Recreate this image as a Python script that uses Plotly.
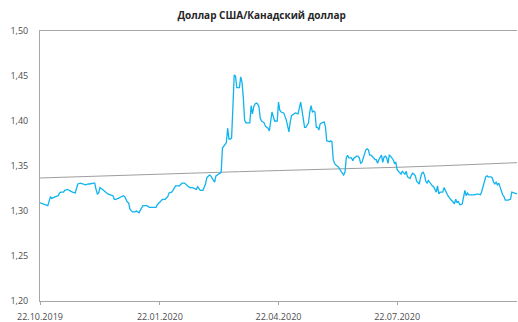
import plotly.graph_objects as go

# USD/CAD daily closes
dates = [
    "2019-10-22", "2019-10-24", "2019-10-27", "2019-10-28", "2019-10-30", "2019-10-31",
    "2019-11-03", "2019-11-05", "2019-11-06", "2019-11-07", "2019-11-09", "2019-11-10",
    "2019-11-12", "2019-11-14", "2019-11-15", "2019-11-16", "2019-11-18", "2019-11-19",
    "2019-11-20", "2019-11-22", "2019-11-24", "2019-11-26", "2019-11-28", "2019-11-29",
    "2019-12-02", "2019-12-03", "2019-12-04", "2019-12-05", "2019-12-06", "2019-12-07",
    "2019-12-09", "2019-12-11", "2019-12-12", "2019-12-13", "2019-12-15", "2019-12-17",
    "2019-12-18", "2019-12-19", "2019-12-21", "2019-12-23", "2019-12-25", "2019-12-26",
    "2019-12-28", "2019-12-29", "2019-12-30", "2020-01-01", "2020-01-03", "2020-01-04",
    "2020-01-06", "2020-01-07", "2020-01-09", "2020-01-12", "2020-01-14", "2020-01-17",
    "2020-01-19", "2020-01-20", "2020-01-22", "2020-01-24", "2020-01-26", "2020-01-28",
    "2020-01-29", "2020-01-31", "2020-02-01", "2020-02-03", "2020-02-05", "2020-02-06",
    "2020-02-08", "2020-02-10", "2020-02-12", "2020-02-14", "2020-02-16", "2020-02-19",
    "2020-02-20", "2020-02-22", "2020-02-24", "2020-02-26", "2020-02-27", "2020-02-29",
    "2020-03-01", "2020-03-03", "2020-03-04", "2020-03-05", "2020-03-07", "2020-03-09",
    "2020-03-10", "2020-03-11", "2020-03-13", "2020-03-14", "2020-03-15", "2020-03-16",
    "2020-03-17", "2020-03-18", "2020-03-19", "2020-03-20", "2020-03-21", "2020-03-22",
    "2020-03-23", "2020-03-24", "2020-03-25", "2020-03-26", "2020-03-27", "2020-03-28",
    "2020-03-30", "2020-03-31", "2020-04-01", "2020-04-02", "2020-04-03", "2020-04-04",
    "2020-04-05", "2020-04-06", "2020-04-07", "2020-04-08", "2020-04-09", "2020-04-11",
    "2020-04-12", "2020-04-14", "2020-04-15", "2020-04-16", "2020-04-17", "2020-04-19",
    "2020-04-21", "2020-04-22", "2020-04-23", "2020-04-24", "2020-04-26", "2020-04-28",
    "2020-04-29", "2020-04-30", "2020-05-01", "2020-05-02", "2020-05-04", "2020-05-05",
    "2020-05-07", "2020-05-08", "2020-05-09", "2020-05-10", "2020-05-11", "2020-05-12",
    "2020-05-13", "2020-05-15", "2020-05-16", "2020-05-17", "2020-05-18", "2020-05-19",
    "2020-05-20", "2020-05-21", "2020-05-22", "2020-05-23", "2020-05-24", "2020-05-26",
    "2020-05-27", "2020-05-28", "2020-05-29", "2020-05-31", "2020-06-01", "2020-06-02",
    "2020-06-03", "2020-06-04", "2020-06-05", "2020-06-07", "2020-06-08", "2020-06-09",
    "2020-06-11", "2020-06-12", "2020-06-13", "2020-06-14", "2020-06-15", "2020-06-17",
    "2020-06-18", "2020-06-19", "2020-06-21", "2020-06-22", "2020-06-23", "2020-06-24",
    "2020-06-25", "2020-06-27", "2020-06-28", "2020-06-29", "2020-06-30", "2020-07-01",
    "2020-07-02", "2020-07-04", "2020-07-05", "2020-07-06", "2020-07-07", "2020-07-08",
    "2020-07-09", "2020-07-10", "2020-07-11", "2020-07-12", "2020-07-13", "2020-07-14",
    "2020-07-15", "2020-07-16", "2020-07-17", "2020-07-18", "2020-07-19", "2020-07-20",
    "2020-07-21", "2020-07-22", "2020-07-24", "2020-07-25", "2020-07-26", "2020-07-27",
    "2020-07-28", "2020-07-29", "2020-07-30", "2020-07-31", "2020-08-01", "2020-08-02",
    "2020-08-03", "2020-08-04", "2020-08-05", "2020-08-06", "2020-08-07", "2020-08-08",
    "2020-08-09", "2020-08-10", "2020-08-11", "2020-08-12", "2020-08-13", "2020-08-14",
    "2020-08-15", "2020-08-16", "2020-08-17", "2020-08-18", "2020-08-19", "2020-08-20",
    "2020-08-21", "2020-08-22", "2020-08-23", "2020-08-24", "2020-08-26", "2020-08-27",
    "2020-08-29", "2020-08-30", "2020-09-01", "2020-09-02", "2020-09-03", "2020-09-04",
    "2020-09-05", "2020-09-06", "2020-09-07", "2020-09-08", "2020-09-09", "2020-09-10",
    "2020-09-11", "2020-09-12", "2020-09-13", "2020-09-14", "2020-09-15", "2020-09-16",
    "2020-09-19", "2020-09-22", "2020-09-24", "2020-09-25", "2020-09-26", "2020-09-27",
    "2020-09-28", "2020-09-29", "2020-09-30", "2020-10-02", "2020-10-03", "2020-10-04",
    "2020-10-05", "2020-10-06", "2020-10-07", "2020-10-08", "2020-10-09", "2020-10-10",
    "2020-10-11", "2020-10-12", "2020-10-13", "2020-10-15", "2020-10-17", "2020-10-18",
    "2020-10-20", "2020-10-22",
]
usdcad = [
    1.309, 1.308, 1.306, 1.306, 1.316, 1.314,
    1.316, 1.317, 1.320, 1.321, 1.321, 1.323,
    1.324, 1.322, 1.321, 1.321, 1.320, 1.326,
    1.330, 1.331, 1.330, 1.329, 1.330, 1.330,
    1.331, 1.331, 1.324, 1.319, 1.320, 1.326,
    1.324, 1.321, 1.320, 1.319, 1.318, 1.317,
    1.313, 1.313, 1.314, 1.316, 1.317, 1.316,
    1.310, 1.309, 1.302, 1.299, 1.299, 1.300,
    1.298, 1.301, 1.306, 1.306, 1.304, 1.304,
    1.304, 1.307, 1.310, 1.313, 1.313, 1.316,
    1.320, 1.321, 1.323, 1.328, 1.328, 1.328,
    1.331, 1.331, 1.328, 1.326, 1.326, 1.324,
    1.327, 1.323, 1.323, 1.330, 1.337, 1.340,
    1.339, 1.334, 1.332, 1.339, 1.341, 1.343,
    1.370, 1.372, 1.376, 1.392, 1.380, 1.380,
    1.381, 1.415, 1.451, 1.450, 1.437, 1.437,
    1.437, 1.449, 1.443, 1.426, 1.401, 1.398,
    1.398, 1.398, 1.417, 1.408, 1.416, 1.419,
    1.420, 1.419, 1.416, 1.403, 1.400, 1.398,
    1.394, 1.392, 1.389, 1.403, 1.410, 1.400,
    1.400, 1.421, 1.412, 1.410, 1.409, 1.401,
    1.394, 1.388, 1.399, 1.406, 1.408, 1.409,
    1.408, 1.417, 1.421, 1.412, 1.401, 1.393,
    1.393, 1.398, 1.410, 1.417, 1.410, 1.411,
    1.410, 1.393, 1.393, 1.390, 1.397, 1.399,
    1.399, 1.394, 1.378, 1.377, 1.378, 1.377,
    1.357, 1.353, 1.351, 1.349, 1.346, 1.344,
    1.340, 1.343, 1.359, 1.362, 1.359, 1.359,
    1.356, 1.359, 1.361, 1.361, 1.359, 1.353,
    1.354, 1.362, 1.368, 1.369, 1.368, 1.362,
    1.362, 1.359, 1.357, 1.357, 1.353, 1.357,
    1.360, 1.362, 1.354, 1.360, 1.361, 1.359,
    1.353, 1.362, 1.361, 1.359, 1.357, 1.353,
    1.354, 1.346, 1.342, 1.341, 1.344, 1.343,
    1.341, 1.344, 1.338, 1.337, 1.336, 1.340,
    1.342, 1.341, 1.339, 1.333, 1.332, 1.330,
    1.337, 1.342, 1.343, 1.340, 1.333, 1.331,
    1.334, 1.332, 1.329, 1.328, 1.327, 1.323,
    1.321, 1.328, 1.319, 1.321, 1.321, 1.326,
    1.320, 1.317, 1.313, 1.312, 1.310, 1.308,
    1.313, 1.309, 1.311, 1.307, 1.307, 1.308,
    1.314, 1.323, 1.317, 1.320, 1.318, 1.318,
    1.318, 1.319, 1.318, 1.322, 1.328, 1.333,
    1.338, 1.339, 1.338, 1.338, 1.337, 1.332,
    1.330, 1.332, 1.329, 1.331, 1.326, 1.323,
    1.318, 1.316, 1.312, 1.312, 1.313, 1.321,
    1.320, 1.319,
]

# Long-run average of the rate
avg_dates = [
    "2019-10-22", "2019-11-21", "2019-12-22", "2020-01-22", "2020-02-22", "2020-03-23",
    "2020-04-23", "2020-05-24", "2020-06-24", "2020-07-25", "2020-08-24", "2020-09-24",
    "2020-10-22",
]
avg_values = [
    1.3367, 1.3382, 1.3397, 1.3412, 1.3425, 1.3437,
    1.3450, 1.3460, 1.3473, 1.3487, 1.3502, 1.3520,
    1.3537,
]

tick_dates = ["2019-10-22", "2020-01-22", "2020-04-22", "2020-07-22"]
tick_labels = ["22.10.2019", "22.01.2020", "22.04.2020", "22.07.2020"]
y_ticks = [1.20, 1.25, 1.30, 1.35, 1.40, 1.45, 1.50]
y_labels = ["1,20", "1,25", "1,30", "1,35", "1,40", "1,45", "1,50"]

FONT = "Open Sans"
AXIS_COLOR = "#A6A6A6"
TEXT_COLOR = "#4D4D4D"

fig = go.Figure()
fig.add_trace(go.Scatter(
    x=avg_dates, y=avg_values, mode="lines",
    line=dict(color="#9E9E9E", width=1), hoverinfo="skip",
))
fig.add_trace(go.Scatter(
    x=dates, y=usdcad, mode="lines",
    line=dict(color="#0FB4EE", width=1.3),
))

fig.update_layout(
    width=518, height=322,
    margin=dict(l=40, r=1, t=31, b=21),
    paper_bgcolor="white", plot_bgcolor="white",
    showlegend=False,
    title=dict(
        text="<b>Доллар США/Канадский доллар</b>",
        x=0.505, xref="container", xanchor="center",
        y=0.952, yref="container", yanchor="middle",
        font=dict(family=FONT, size=10, color="#262626"),
    ),
    font=dict(family=FONT, size=9, color=TEXT_COLOR),
)
fig.update_xaxes(
    type="date", range=["2019-10-22", "2020-10-22"],
    tickvals=tick_dates, ticktext=tick_labels,
    showgrid=False, zeroline=False, automargin=False,
    showline=True, linecolor=AXIS_COLOR, linewidth=1, mirror=True,
    ticks="outside", ticklen=3, tickcolor=AXIS_COLOR,
    ticklabelstandoff=4,
    tickfont=dict(family=FONT, size=9, color=TEXT_COLOR),
)
fig.update_yaxes(
    range=[1.20, 1.50], tickvals=y_ticks, ticktext=y_labels,
    showgrid=False, zeroline=False, automargin=False,
    showline=True, linecolor=AXIS_COLOR, linewidth=1,
    ticks="", ticklabelstandoff=9,
    tickfont=dict(family=FONT, size=9, color=TEXT_COLOR),
)

fig.write_html("out.html")
